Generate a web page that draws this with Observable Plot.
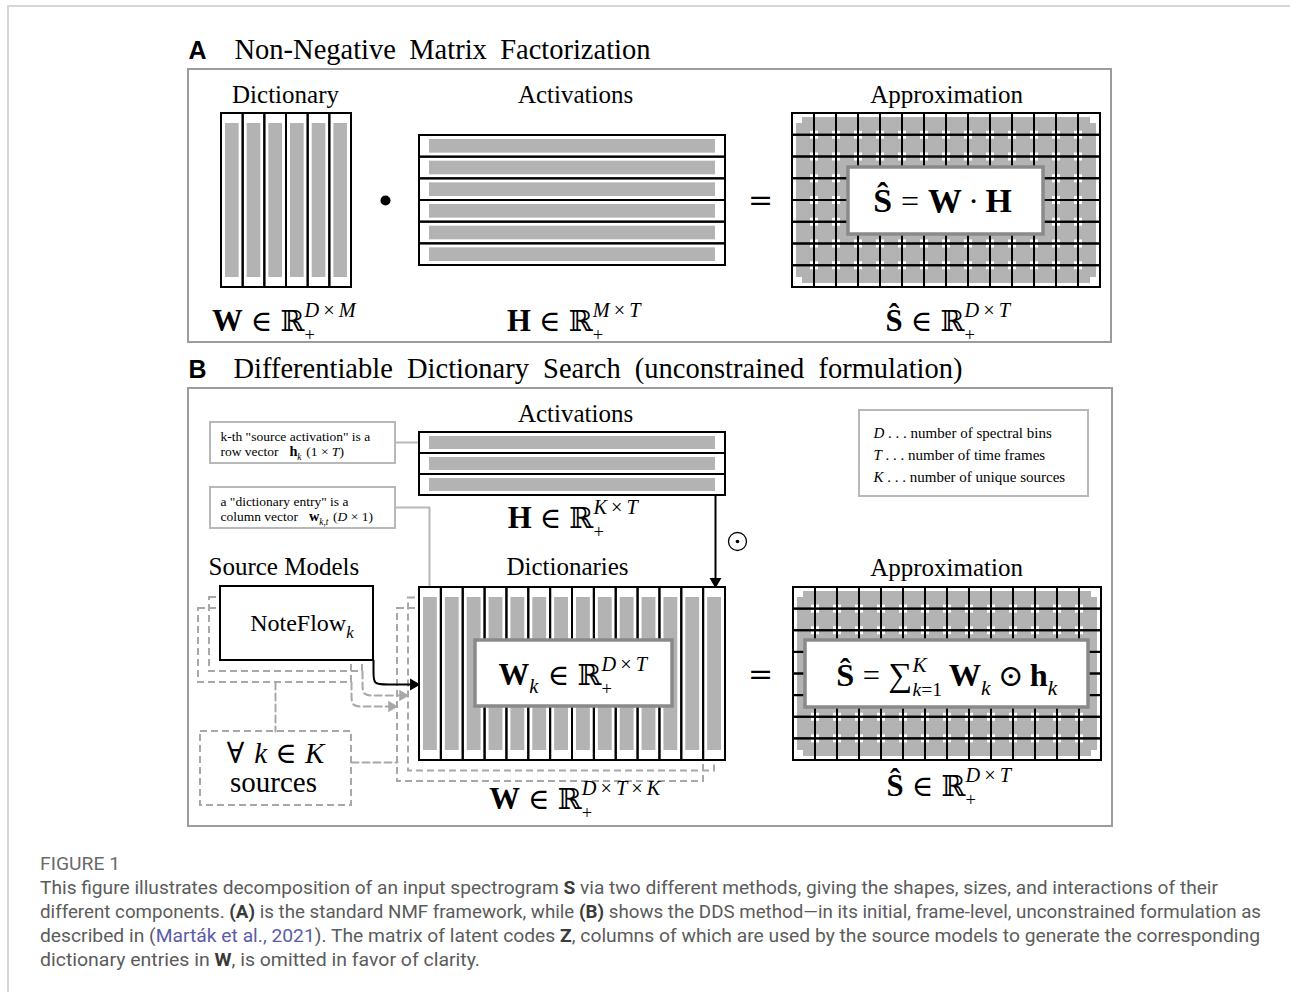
<!DOCTYPE html>
<html>
<head>
<meta charset="utf-8">
<script src="https://cdn.jsdelivr.net/npm/d3@7"></script>
<script src="https://cdn.jsdelivr.net/npm/@observablehq/plot@0.6"></script>
<style>
  html, body { margin: 0; padding: 0; background: #fff; }
  #page { position: relative; width: 1290px; height: 992px; overflow: hidden; }
  #frame { position: absolute; left: 7px; top: 5px; right: 0; bottom: 0;
           border-top: 2px solid #d6d6d6; border-left: 2px solid #d6d6d6; }
  #chart { position: absolute; left: 0; top: 0; }
  #caption { position: absolute; left: 40px; top: 852px;
             font-family: Roboto, "Liberation Sans", sans-serif; font-size: 18px; line-height: 24px;
             color: #5b5b5b; white-space: nowrap; }
  #caption .line { display: block; height: 24px; }
  #caption .line span.inner { display: inline-block; transform-origin: 0 0; }
  #caption b { color: #3a3a3a; font-weight: 700; }
  #caption .ref { color: #5b5ba6; }
  #caption .fig { color: #6a6a6a; }
</style>
</head>
<body>
<div id="page">
  <div id="frame"></div>
  <div id="chart"></div>
  <div id="caption"></div>
</div>
<script>
// ------------------------------------------------------------------
// DATA (content only)
// ------------------------------------------------------------------
const panelLetters = ["A", "B"];
const panelTitles = [
  "Non-Negative Matrix Factorization",
  "Differentiable Dictionary Search (unconstrained formulation)"
];
const headingsA = ["Dictionary", "Activations", "Approximation"];
const headingsB = ["Activations", "Source Models", "Dictionaries", "Approximation"];

const dictionaryColumnsA = 6;   // M dictionary atoms
const activationRowsA = 6;      // M activation rows
const frequencyRows = 8;        // D rows of the approximation grids
const timeColumns = 14;         // T frames (grid columns, dictionary columns in B)
const activationRowsB = 3;      // K source activations

const calloutTexts = [
  ['k-th "source activation" is a', "row vector"],
  ['a "dictionary entry" is a', "column vector"]
];
const legendSymbols = ["D", "T", "K"];
const legendTexts = ["number of spectral bins", "number of time frames", "number of unique sources"];
const sourceModelName = "NoteFlow";
const sourcesLabel = "sources";

// math expressions as runs: s = "b" bold, "i" italic, "r" roman; gap = space in em
const ssub = (sup, sub) => ({sup, sub});
const rel = t => [{gap: 0.28}, {t, s: "r"}, {gap: 0.28}];
const bin = t => [{gap: 0.2}, {t, s: "r"}, {gap: 0.2}];
const dims = (...d) => d.flatMap((v, i) => i ? [{t: "\u2009×\u2009", s: "r"}, {t: v, s: "i"}] : [{t: v, s: "i"}]);
const plus = [{t: "+", s: "r"}];
const exprWA   = [{t: "W", s: "b"}, ...rel("∈"), {t: "ℝ", s: "r"}, ssub(dims("D", "M"), plus)];
const exprHA   = [{t: "H", s: "b"}, ...rel("∈"), {t: "ℝ", s: "r"}, ssub(dims("M", "T"), plus)];
const exprSA   = [{t: "Ŝ", s: "b"}, ...rel("∈"), {t: "ℝ", s: "r"}, ssub(dims("D", "T"), plus)];
const exprNMF  = [{t: "Ŝ", s: "b"}, ...rel("="), {t: "W", s: "b"}, ...bin("·"), {t: "H", s: "b"}];
const exprHB   = [{t: "H", s: "b"}, ...rel("∈"), {t: "ℝ", s: "r"}, ssub(dims("K", "T"), plus)];
const exprWk   = [{t: "W", s: "b"}, ssub(null, [{t: "k", s: "i"}]), ...rel("∈"), {t: "ℝ", s: "r"}, ssub(dims("D", "T"), plus)];
const exprDDS  = [{t: "Ŝ", s: "b"}, ...rel("="), {t: "∑", s: "r", scale: 1.1}, ssub([{t: "K", s: "i"}], [{t: "k", s: "i"}, {t: "=1", s: "r"}]),
                  {gap: 0.17}, {t: "W", s: "b"}, ssub(null, [{t: "k", s: "i"}]), ...bin("⊙"), {t: "h", s: "b"}, ssub(null, [{t: "k", s: "i"}])];
const exprWB   = [{t: "W", s: "b"}, ...rel("∈"), {t: "ℝ", s: "r"}, ssub(dims("D", "T", "K"), plus)];
const exprSB   = exprSA;
const exprNote = [{t: sourceModelName, s: "r"}, ssub(null, [{t: "k", s: "i"}])];
const exprAll  = [{t: "∀", s: "r"}, {gap: 0.35}, {t: "k", s: "i"}, ...rel("∈"), {t: "K", s: "i"}];
const exprCall1 = [{t: calloutTexts[0][1], s: "r"}, {gap: 0.8}, {t: "h", s: "b"}, ssub(null, [{t: "k", s: "i"}]), {gap: 0.3}, {t: "(1 × ", s: "r"}, {t: "T", s: "i"}, {t: ")", s: "r"}];
const exprCall2 = [{t: calloutTexts[1][1], s: "r"}, {gap: 0.8}, {t: "w", s: "b"}, ssub(null, [{t: "k,t", s: "i"}]), {gap: 0.3}, {t: "(", s: "r"}, {t: "D", s: "i"}, {t: " × 1)", s: "r"}];

const captionLabel = "FIGURE 1";
const captionLines = [
  [["This figure illustrates decomposition of an input spectrogram ", ""], ["S", "b"], [" via two different methods, giving the shapes, sizes, and interactions of their", ""]],
  [["different components. ", ""], ["(A)", "b"], [" is the standard NMF framework, while ", ""], ["(B)", "b"], [" shows the DDS method\u2014in its initial, frame-level, unconstrained formulation as", ""]],
  [["described in (", ""], ["Marták et al., 2021", "ref"], ["). The matrix of latent codes ", ""], ["Z", "b"], [", columns of which are used by the source models to generate the corresponding", ""]],
  [["dictionary entries in ", ""], ["W", "b"], [", is omitted in favor of clarity.", ""]]
];

// ------------------------------------------------------------------
// LAYOUT (pixel frame of the figure)
// ------------------------------------------------------------------
const W = 1290, H = 850;
const SERIF = '"Liberation Serif", "DejaVu Serif", serif';
const SANS = '"Liberation Sans", Arial, sans-serif';
const GRAY = "#b3b3b3", FRAME = "#9c9c9c", LIGHT = "#b8b8b8", DASH = "#a8a8a8";

const B = {
  panelA: {x1: 188, y1: 69, x2: 1111, y2: 342},
  panelB: {x1: 188, y1: 388, x2: 1112, y2: 826},
  dictA: {x1: 221, y1: 113, x2: 351, y2: 287},
  actA: {x1: 419, y1: 135, x2: 725, y2: 265},
  gridA: {x1: 792, y1: 113, x2: 1100, y2: 287},
  boxA: {x1: 848, y1: 167, x2: 1043, y2: 234},
  actB: {x1: 419, y1: 432, x2: 725, y2: 495},
  dictB: {x1: 419, y1: 587, x2: 725, y2: 760},
  boxDictB: {x1: 475, y1: 640, x2: 672, y2: 706},
  gridB: {x1: 793, y1: 587, x2: 1101, y2: 760},
  boxB: {x1: 805, y1: 640, x2: 1088, y2: 707},
  noteflow: {x1: 220, y1: 586, x2: 373, y2: 660},
  forall: {x1: 200, y1: 731, x2: 351, y2: 805},
  call1: {x1: 210, y1: 422, x2: 395, y2: 463},
  call2: {x1: 210, y1: 487, x2: 395, y2: 528},
  legend: {x1: 859, y1: 410, x2: 1088, y2: 496}
};
const shift = (b, dx, dy) => ({x1: b.x1 + dx, x2: b.x2 + dx, y1: b.y1 + dy, y2: b.y2 + dy});

function colCells(b, n) {
  const w = (b.x2 - b.x1) / n;
  return d3.range(n).map(i => ({x1: b.x1 + i * w, x2: b.x1 + (i + 1) * w, y1: b.y1, y2: b.y2}));
}
function rowCells(b, n) {
  const h = (b.y2 - b.y1) / n;
  return d3.range(n).map(i => ({x1: b.x1, x2: b.x2, y1: b.y1 + i * h, y2: b.y1 + (i + 1) * h}));
}
function gridCells(b, nc, nr) {
  return rowCells(b, nr).flatMap(r => colCells(r, nc));
}
const colBars = (b, n) => colCells(b, n).map(c => ({x1: c.x1 + 4, x2: c.x2 - 4, y1: c.y1 + 10, y2: c.y2 - 10}));
const rowBars = (b, n) => rowCells(b, n).map(c => ({x1: c.x1 + 10, x2: c.x2 - 10, y1: c.y1 + 4, y2: c.y2 - 4}));

// ---- math run layout using canvas measurement
const ctx = document.createElement("canvas").getContext("2d");
function measure(t, s, size) {
  ctx.font = `${s === "i" ? "italic " : ""}${s === "b" ? "bold " : ""}${size}px ${SERIF}`;
  return ctx.measureText(t).width;
}
function layoutRuns(runs, size) {
  let x = 0; const items = [];
  for (const r of runs) {
    if (r.gap !== undefined) { x += r.gap * size; continue; }
    if (r.sup !== undefined) {
      let w = 0;
      const both = r.sup && r.sub;
      const groups = [[r.sup, -size * 0.45, size * 0.7], [r.sub, size * (both ? 0.36 : 0.3), size * (both ? 0.64 : 0.7)]];
      for (const [grp, dy, ss] of groups) {
        if (!grp) continue;
        let gx = x;
        for (const q of grp) { items.push({dx: gx, dy, t: q.t, s: q.s, size: ss}); gx += measure(q.t, q.s, ss); }
        w = Math.max(w, gx - x);
      }
      x += w + size * 0.05;
    } else {
      const sz = size * (r.scale || (r.s === "b" ? 1.06 : 1));
      items.push({dx: x, dy: 0, t: r.t, s: r.s, size: sz});
      x += measure(r.t, r.s, sz);
    }
  }
  return {items, width: x};
}
function place(runs, size, x, y, anchor = "middle") {
  const {items, width} = layoutRuns(runs, size);
  const x0 = anchor === "middle" ? x - width / 2 : x;
  return items.map(d => ({x: x0 + d.dx, y: y + d.dy, text: d.t, s: d.s, size: d.size}));
}

// math pieces
const mathRuns = [
  ...place(exprWA, 29, 284, 330),
  ...place(exprHA, 29, 574, 330),
  ...place(exprSA, 29, 948, 330),
  ...place(exprNMF, 32, 942, 211),
  ...place(exprHB, 29, 573, 527),
  ...place(exprWk, 29, 573, 684),
  ...place(exprDDS, 30.5, 947, 685),
  ...place(exprWB, 29, 575, 808),
  ...place(exprSB, 29, 949, 795),
  ...place(exprNote, 24, 302, 630),
  ...place(exprAll, 29, 275, 762),
  ...place(exprCall1, 13.5, 220, 455, "start"),
  ...place(exprCall2, 13.5, 220, 520, "start"),
  ...legendSymbols.flatMap((sym, i) =>
    place([{t: sym, s: "i"}, {t: " . . . " + legendTexts[i], s: "r"}], 15, 873, 437 + i * 22, "start"))
];

// plain labels
const labelsCentered = [
  {x: 285, y: 102, text: headingsA[0]},
  {x: 575, y: 102, text: headingsA[1]},
  {x: 946, y: 102, text: headingsA[2]},
  {x: 575, y: 421, text: headingsB[0]},
  {x: 567, y: 574, text: headingsB[2]},
  {x: 946, y: 575, text: headingsB[3]}
];
const labelsStart = [{x: 208, y: 574, text: headingsB[1]}];
const sourcesText = [{x: 273, y: 791, text: sourcesLabel}];
const calloutFirst = [
  {x: 220, y: 440, text: calloutTexts[0][0]},
  {x: 220, y: 505, text: calloutTexts[1][0]}
];
const letters = panelLetters.map((t, i) => ({x: 188, y: [58, 377][i], text: t}));
const titles = panelTitles.map((t, i) => ({x: [234, 233][i], y: [58, 377][i], text: t}));
const titleWidths = [416, 729];

// shapes
const panels = [B.panelA, B.panelB];
const whiteFronts = [B.dictA, B.actA, B.gridA, B.actB, B.dictB, B.gridB, B.noteflow];
const grayBars = [
  ...colBars(B.dictA, dictionaryColumnsA),
  ...rowBars(B.actA, activationRowsA),
  ...colBars(B.gridA, timeColumns), ...rowBars(B.gridA, frequencyRows),
  ...rowBars(B.actB, activationRowsB),
  ...colBars(B.dictB, timeColumns),
  ...colBars(B.gridB, timeColumns), ...rowBars(B.gridB, frequencyRows)
];
const blackCells = [
  ...colCells(B.dictA, dictionaryColumnsA),
  ...rowCells(B.actA, activationRowsA),
  ...gridCells(B.gridA, timeColumns, frequencyRows),
  ...rowCells(B.actB, activationRowsB),
  ...colCells(B.dictB, timeColumns),
  ...gridCells(B.gridB, timeColumns, frequencyRows),
  B.noteflow
];
const innerBoxes = [B.boxA, B.boxDictB, B.boxB];
const lightBoxes = [B.call1, B.call2, B.legend];
const dashedRects = [
  shift(B.noteflow, -22, 22), shift(B.noteflow, -11, 11),
  shift(B.dictB, -22, 21), shift(B.dictB, -11, 10.5),
  B.forall
];
const connectors = [
  {k: 0, x: B.call1.x2, y: 442}, {k: 0, x: B.actA.x1, y: 442},
  {k: 1, x: B.call2.x2, y: 507}, {k: 1, x: 429, y: 507}, {k: 1, x: 429, y: B.dictB.y1}
];
const dashedConnectors = [
  {k: 0, x: 275, y: B.noteflow.y2 + 22}, {k: 0, x: 275, y: B.forall.y1},
  {k: 1, x: B.forall.x2, y: 762}, {k: 1, x: B.dictB.x1 - 22, y: 762}
];
function bend(k, x0, y0, x1, y1) {
  return [[x0, y0], [x0, y0 + 12], [x0, y1], [x0 + 12, y1], [x1, y1]].map(([x, y]) => ({k, x, y}));
}
const grayArrows = [
  ...bend(0, B.noteflow.x2 - 22, B.noteflow.y2 + 22, B.dictB.x1 - 30, 706),
  ...bend(1, B.noteflow.x2 - 11, B.noteflow.y2 + 11, B.dictB.x1 - 19, 695)
];
const blackArrow = bend(0, B.noteflow.x2, B.noteflow.y2, B.dictB.x1 - 6, 684);
const grayHeads = [{x: B.dictB.x1 - 28, y: 706}, {x: B.dictB.x1 - 17, y: 695}];
const blackHeads = [{x: B.dictB.x1 - 6, y: 684, r: 90}, {x: 715, y: B.dictB.y1 - 6, r: 180}];
const downArrow = [{x: 715, y: B.actB.y2}, {x: 715, y: B.dictB.y1 - 6}];

const rectOpts = {x1: "x1", x2: "x2", y1: "y1", y2: "y2"};
const textBase = {x: "x", y: "y", text: "text", lineAnchor: "bottom"};

const chart = Plot.plot({
  width: W, height: H,
  margin: 0,
  x: {domain: [0, W], range: [0, W], axis: null},
  y: {domain: [0, H], range: [0, H], axis: null},
  style: {background: "transparent"},
  marks: [
    Plot.rect(panels, {...rectOpts, fill: "none", stroke: FRAME, strokeWidth: 2}),
    Plot.line(connectors, {x: "x", y: "y", z: "k", stroke: LIGHT, strokeWidth: 2}),
    Plot.rect(dashedRects, {...rectOpts, fill: "none", stroke: DASH, strokeWidth: 2, strokeDasharray: "7,4"}),
    Plot.line(dashedConnectors, {x: "x", y: "y", z: "k", stroke: DASH, strokeWidth: 2, strokeDasharray: "7,4"}),
    Plot.line(grayArrows, {x: "x", y: "y", z: "k", curve: "basis", stroke: DASH, strokeWidth: 2, strokeDasharray: "7,4"}),
    Plot.dot(grayHeads, {x: "x", y: "y", symbol: "triangle", r: 4.2, rotate: 90, fill: DASH, stroke: "none"}),
    Plot.rect(whiteFronts, {...rectOpts, fill: "white"}),
    Plot.rect(grayBars, {...rectOpts, fill: GRAY}),
    Plot.rect(blackCells, {...rectOpts, fill: "none", stroke: "black", strokeWidth: 2}),
    Plot.rect(innerBoxes, {...rectOpts, fill: "white", stroke: "#8a8a8a", strokeWidth: 3.5}),
    Plot.rect(lightBoxes, {...rectOpts, fill: "white", stroke: LIGHT, strokeWidth: 2}),
    Plot.line(blackArrow, {x: "x", y: "y", curve: "basis", stroke: "black", strokeWidth: 2}),
    Plot.line(downArrow, {x: "x", y: "y", stroke: "black", strokeWidth: 2}),
    Plot.dot(blackHeads, {x: "x", y: "y", symbol: "triangle", r: 4.4, rotate: "r", fill: "black", stroke: "none"}),
    Plot.dot([{x: 385, y: 200}], {x: "x", y: "y", r: 5, fill: "black"}),
    Plot.text([{x: 760, y: 200, text: "="}, {x: 760, y: 674, text: "="}], {x: "x", y: "y", text: "text", fontSize: 30, fontFamily: '"DejaVu Serif", serif', fontWeight: 300, fill: "black"}),
    Plot.dot([{x: 737, y: 541}], {x: "x", y: "y", r: 9, fill: "none", stroke: "black", strokeWidth: 1.3}),
    Plot.dot([{x: 737, y: 541}], {x: "x", y: "y", r: 1.8, fill: "black"}),
    // titles
    Plot.text(letters, {...textBase, textAnchor: "start", fontSize: 25, fontWeight: "bold", fontFamily: SANS, fill: "black"}),
    Plot.text(titles, {...textBase, textAnchor: "start", fontSize: 28.5, fontFamily: SERIF, fill: "black"}),
    Plot.text(labelsCentered, {...textBase, textAnchor: "middle", fontSize: 25, fontFamily: SERIF, fill: "black"}),
    Plot.text(labelsStart, {...textBase, textAnchor: "start", fontSize: 25, fontFamily: SERIF, fill: "black"}),
    Plot.text(sourcesText, {...textBase, textAnchor: "middle", fontSize: 29, fontFamily: SERIF, fill: "black"}),
    Plot.text(calloutFirst, {...textBase, textAnchor: "start", fontSize: 13.5, fontFamily: SERIF, fill: "black"}),
    // math
    Plot.text(mathRuns.filter(d => d.s === "r"), {...textBase, textAnchor: "start", fontSize: d => d.size, fontFamily: SERIF, fill: "black"}),
    Plot.text(mathRuns.filter(d => d.s === "i"), {...textBase, textAnchor: "start", fontSize: d => d.size, fontStyle: "italic", fontFamily: SERIF, fill: "black"}),
    Plot.text(mathRuns.filter(d => d.s === "b"), {...textBase, textAnchor: "start", fontSize: d => d.size, fontWeight: "bold", fontFamily: SERIF, fill: "black"})
  ]
});
document.getElementById("chart").appendChild(chart);

// widen the panel titles' word spacing to the typeset width
d3.select(chart).selectAll("text").each(function () {
  const i = panelTitles.indexOf(this.textContent);
  if (i < 0) return;
  const w = this.getComputedTextLength();
  const gaps = panelTitles[i].split(" ").length - 1;
  this.setAttribute("word-spacing", ((titleWidths[i] - w) / gaps).toFixed(2));
});

// ---- caption
const cap = document.getElementById("caption");
function addLine(segs, cls, target) {
  const div = document.createElement("div");
  div.className = "line" + (cls ? " " + cls : "");
  const inner = document.createElement("span");
  inner.className = "inner";
  for (const [t, c] of segs) {
    const el = c === "b" ? document.createElement("b") : document.createElement("span");
    if (c === "ref") el.className = "ref";
    el.textContent = t;
    inner.appendChild(el);
  }
  div.appendChild(inner);
  cap.appendChild(div);
  const w = inner.getBoundingClientRect().width;
  inner.style.transform = `scaleX(${target / w})`;
}
addLine([[captionLabel, ""]], "fig", 80);
const captionTargets = [1178, 1221, 1220, 440];
captionLines.forEach((segs, i) => addLine(segs, "", captionTargets[i]));
</script>
</body>
</html>
